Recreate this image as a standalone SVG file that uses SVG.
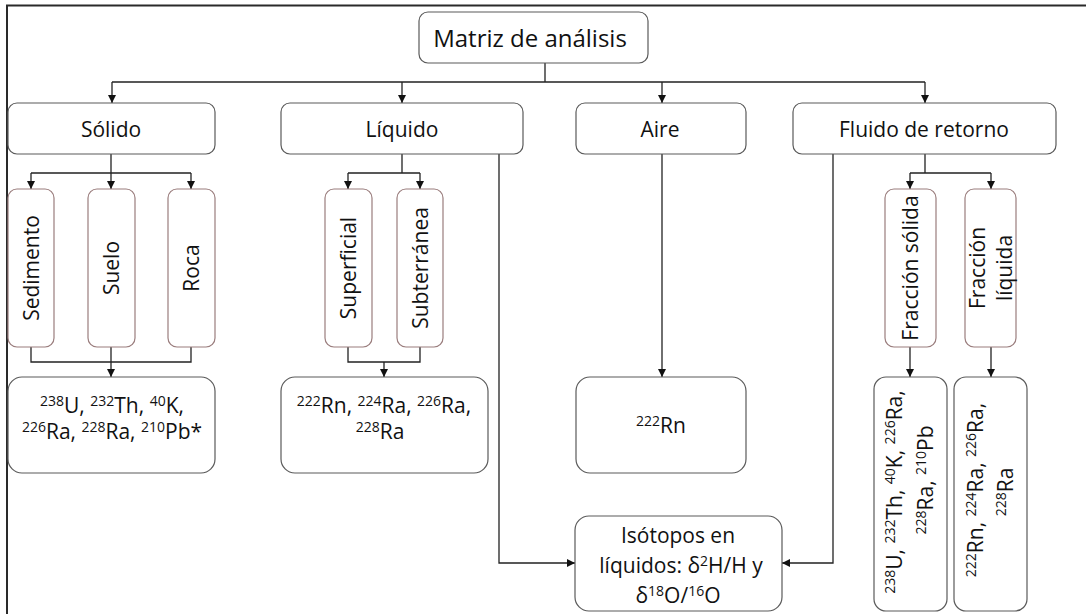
<svg xmlns="http://www.w3.org/2000/svg" width="1086" height="614" viewBox="0 0 1086 614">
<style>
text{font-family:"Open Sans","Noto Sans","Liberation Sans",sans-serif;font-size:21px;fill:#111;text-anchor:middle}
.big{font-size:24px}
.box{fill:#fff;stroke:#5a5a5a;stroke-width:1.2}
.vbox{fill:#fff;stroke:#9a7d7d;stroke-width:1.2}
.sup{font-size:14px}
.c{fill:none;stroke:#222;stroke-width:1.3}
.frame{fill:none;stroke:#2a2a2a;stroke-width:2}
</style>
<defs>
<marker id="ah" markerUnits="userSpaceOnUse" markerWidth="8" markerHeight="8" refX="8" refY="4" orient="auto">
<path d="M0,0 L8,4 L0,8 z" fill="#111"/>
</marker>
</defs>
<path class="frame" d="M7,614 V5.5 H1086"/>
<g id="connectors">
<path class="c" d="M545,63 V82 M112,82 H925"/>
<path class="c" d="M112,82 V103" marker-end="url(#ah)"/>
<path class="c" d="M402,82 V103" marker-end="url(#ah)"/>
<path class="c" d="M662,82 V103" marker-end="url(#ah)"/>
<path class="c" d="M925,82 V103" marker-end="url(#ah)"/>
<path class="c" d="M111,154 V173 M31,173 H191"/>
<path class="c" d="M31,173 V189" marker-end="url(#ah)"/>
<path class="c" d="M111,173 V189" marker-end="url(#ah)"/>
<path class="c" d="M191,173 V189" marker-end="url(#ah)"/>
<path class="c" d="M31,347 V362 H191 V347"/>
<path class="c" d="M111,347 V377" marker-end="url(#ah)"/>
<path class="c" d="M402,154 V173 M348,173 H420"/>
<path class="c" d="M348,173 V189" marker-end="url(#ah)"/>
<path class="c" d="M420,173 V189" marker-end="url(#ah)"/>
<path class="c" d="M348,347 V362 H420 V347"/>
<path class="c" d="M384,362 V377" marker-end="url(#ah)"/>
<path class="c" d="M499,154 V563 H575" marker-end="url(#ah)"/>
<path class="c" d="M662,154 V377" marker-end="url(#ah)"/>
<path class="c" d="M833,154 V563 H782" marker-end="url(#ah)"/>
<path class="c" d="M925,154 V173 M910,173 H991"/>
<path class="c" d="M910,173 V189" marker-end="url(#ah)"/>
<path class="c" d="M991,173 V189" marker-end="url(#ah)"/>
<path class="c" d="M910,347 V377" marker-end="url(#ah)"/>
<path class="c" d="M991,347 V377" marker-end="url(#ah)"/>
</g>
<g id="matriz"><rect class="box" x="419" y="12" width="229" height="51" rx="9"/><text class="big" x="530" y="47">Matriz de análisis</text></g>
<g id="solido"><rect class="box" x="8" y="103" width="207" height="51" rx="9"/><text x="111" y="137">Sólido</text></g>
<g id="liquido"><rect class="box" x="281" y="103" width="242" height="51" rx="9"/><text x="402" y="137">Líquido</text></g>
<g id="aire"><rect class="box" x="576" y="103" width="170" height="51" rx="9"/><text x="660" y="137">Aire</text></g>
<g id="fluido"><rect class="box" x="793" y="103" width="263" height="51" rx="9"/><text x="924" y="137">Fluido de retorno</text></g>
<g id="sedimento"><rect class="vbox" x="8" y="189" width="46" height="158" rx="9"/><text transform="translate(31,268) rotate(-90)" y="8">Sedimento</text></g>
<g id="suelo"><rect class="vbox" x="88" y="189" width="47" height="158" rx="9"/><text transform="translate(111,268) rotate(-90)" y="8">Suelo</text></g>
<g id="roca"><rect class="vbox" x="168" y="189" width="47" height="158" rx="9"/><text transform="translate(191,268) rotate(-90)" y="8">Roca</text></g>
<g id="superficial"><rect class="vbox" x="325" y="189" width="47" height="158" rx="9"/><text transform="translate(348,268) rotate(-90)" y="8">Superficial</text></g>
<g id="subterranea"><rect class="vbox" x="397" y="189" width="46" height="158" rx="9"/><text transform="translate(420,268) rotate(-90)" y="8">Subterránea</text></g>
<g id="fraccion-solida"><rect class="vbox" x="885" y="189" width="51" height="158" rx="9"/><text transform="translate(910.5,268) rotate(-90)" y="7.5">Fracción sólida</text></g>
<g id="fraccion-liquida"><rect class="vbox" x="965" y="189" width="51" height="158" rx="9"/><text transform="translate(990.5,268) rotate(-90)"><tspan x="0" y="-5.5">Fracción</tspan><tspan x="0" y="21.5">líquida</tspan></text></g>
<g id="res-solido"><rect class="box" x="8" y="377" width="207" height="96" rx="14"/>
<text x="112" y="413"><tspan class="sup" dy="-7">238</tspan><tspan dy="7">U, </tspan><tspan class="sup" dy="-7">232</tspan><tspan dy="7">Th, </tspan><tspan class="sup" dy="-7">40</tspan><tspan dy="7">K,</tspan></text>
<text x="112" y="439"><tspan class="sup" dy="-7">226</tspan><tspan dy="7">Ra, </tspan><tspan class="sup" dy="-7">228</tspan><tspan dy="7">Ra, </tspan><tspan class="sup" dy="-7">210</tspan><tspan dy="7">Pb*</tspan></text>
</g>
<g id="res-liquido"><rect class="box" x="281" y="377" width="207" height="96" rx="14"/>
<text x="384" y="413"><tspan class="sup" dy="-7">222</tspan><tspan dy="7">Rn, </tspan><tspan class="sup" dy="-7">224</tspan><tspan dy="7">Ra, </tspan><tspan class="sup" dy="-7">226</tspan><tspan dy="7">Ra,</tspan></text>
<text x="380" y="439"><tspan class="sup" dy="-7">228</tspan><tspan dy="7">Ra</tspan></text>
</g>
<g id="res-aire"><rect class="box" x="576" y="377" width="170" height="96" rx="14"/>
<text x="661" y="433"><tspan class="sup" dy="-7">222</tspan><tspan dy="7">Rn</tspan></text>
</g>
<g id="isotopos"><rect class="box" x="575" y="516" width="207" height="95" rx="14"/>
<text x="678" y="543" textLength="114" lengthAdjust="spacingAndGlyphs">Isótopos en</text>
<text x="681" y="573">líquidos: δ<tspan class="sup" dy="-7">2</tspan><tspan dy="7">H/H y</tspan></text>
<text x="678" y="603">δ<tspan class="sup" dy="-7">18</tspan><tspan dy="7">O/</tspan><tspan class="sup" dy="-7">16</tspan><tspan dy="7">O</tspan></text>
</g>
<g id="res-fraccion-solida"><rect class="box" x="874" y="377" width="73" height="234" rx="12"/>
<text transform="translate(910.5,492) rotate(-90)"><tspan x="0" y="-8.5"><tspan class="sup" dy="-7">238</tspan><tspan dy="7">U, </tspan><tspan class="sup" dy="-7">232</tspan><tspan dy="7">Th, </tspan><tspan class="sup" dy="-7">40</tspan><tspan dy="7">K, </tspan><tspan class="sup" dy="-7">226</tspan><tspan dy="7">Ra,</tspan></tspan></text>
<text transform="translate(910.5,480) rotate(-90)" y="22.5"><tspan class="sup" dy="-7">228</tspan><tspan dy="7">Ra, </tspan><tspan class="sup" dy="-7">210</tspan><tspan dy="7">Pb</tspan></text>
</g>
<g id="res-fraccion-liquida"><rect class="box" x="954" y="377" width="73" height="234" rx="12"/>
<text transform="translate(990.5,490) rotate(-90)" y="-7.5"><tspan class="sup" dy="-7">222</tspan><tspan dy="7">Rn, </tspan><tspan class="sup" dy="-7">224</tspan><tspan dy="7">Ra, </tspan><tspan class="sup" dy="-7">226</tspan><tspan dy="7">Ra,</tspan></text>
<text transform="translate(990.5,492) rotate(-90)" y="22.5"><tspan class="sup" dy="-7">228</tspan><tspan dy="7">Ra</tspan></text>
</g>
</svg>
